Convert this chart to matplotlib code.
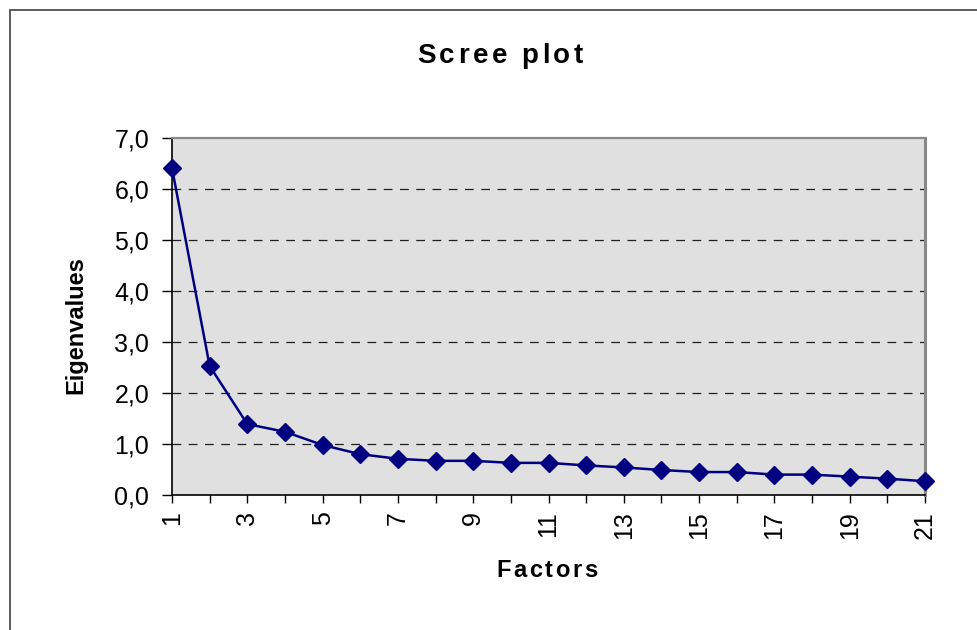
import matplotlib
matplotlib.use('Agg')
import matplotlib.pyplot as plt
from matplotlib.patches import Rectangle
from matplotlib.ticker import FuncFormatter
from matplotlib.font_manager import FontProperties

plt.rcParams['font.family'] = ['Liberation Sans', 'DejaVu Sans']

# eigenvalues
factors = list(range(1, 22))
eigenvalues = [6.41, 2.53, 1.39, 1.24, 0.98, 0.80, 0.71, 0.67, 0.67, 0.63, 0.63,
               0.58, 0.54, 0.49, 0.45, 0.45, 0.40, 0.40, 0.36, 0.32, 0.27]
yticks = [0, 1, 2, 3, 4, 5, 6, 7]

W, H = 978, 630
fig = plt.figure(figsize=(W / 100, H / 100), dpi=100)
ax = fig.add_axes([172/W, 135/H, (925-172)/W, (495-138)/H])
ax.set_facecolor('#E0E0E0')

# outer chart frame (cut off at right / bottom like the original)
fig.patches.append(Rectangle((10/W, -0.1), 1.2, (620/H) + 0.1, transform=fig.transFigure,
                             fill=False, edgecolor='#404040', linewidth=1.2))

ax.plot(factors, eigenvalues, color='#000080', linewidth=1.8, marker='D',
        markersize=9, markerfacecolor='#000080', markeredgecolor='#000080',
        clip_on=False, zorder=3)

ax.set_xlim(1, 21)
ax.set_ylim(0, 7)
ax.set_yticks(yticks)
ax.yaxis.set_major_formatter(FuncFormatter(lambda v, p: f'{v:.1f}'.replace('.', ',')))
ax.set_xticks(factors)
ax.set_xticklabels([str(f) if f % 2 == 1 else '' for f in factors], rotation=90)

for y in yticks[1:-1]:
    ax.axhline(y, color='#202020', linestyle=(0, (7, 6)), linewidth=0.9, zorder=1)

ax.tick_params(axis='both', direction='out', width=1, labelsize=18, colors='black')
ax.tick_params(axis='x', length=5.5, pad=6)
ax.tick_params(axis='y', length=7.5, pad=9)

ax.spines['left'].set_color('black')
ax.spines['bottom'].set_color('black')
ax.spines['left'].set_linewidth(1.2)
ax.spines['bottom'].set_linewidth(1.2)
ax.spines['top'].set_color('#888888')
ax.spines['right'].set_color('#888888')
ax.spines['top'].set_linewidth(1.6)
ax.spines['right'].set_linewidth(2.2)

renderer = fig.canvas.get_renderer()


def spaced_text(text, xc, yb, size, target_w):
    # letter-spaced bold text, centred at pixel xc with baseline at pixel yb
    prop = FontProperties(family='Liberation Sans', weight='bold', size=size)

    def width(s):
        w1 = renderer.get_text_width_height_descent(s + '|', prop, ismath=False)[0]
        w0 = renderer.get_text_width_height_descent('|', prop, ismath=False)[0]
        return w1 - w0

    base = width(text)
    gap = (target_w - base) / (len(text) - 1)
    x0 = xc - target_w / 2
    for i, ch in enumerate(text):
        if ch == ' ':
            continue
        x = x0 + width(text[:i]) + i * gap
        fig.text(x / W, 1 - yb / H, ch, ha='left', va='baseline', fontproperties=prop)


spaced_text('Scree plot', 500, 63, 20, 166)
spaced_text('Factors', 547, 577, 17, 101)
fig.text(82/W, 1 - 325/H, 'Eigenvalues', ha='center', va='baseline', rotation=90,
         fontsize=17, fontweight='bold', rotation_mode='anchor')

fig.savefig('out.png', dpi=100)
